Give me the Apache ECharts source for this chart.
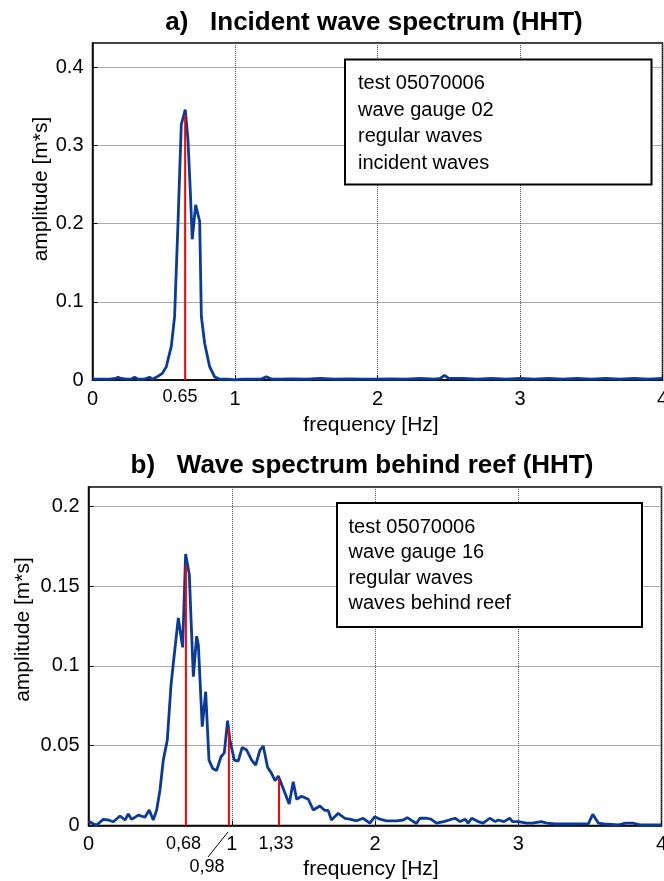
<!DOCTYPE html>
<html><head><meta charset="utf-8">
<script src="https://cdn.jsdelivr.net/npm/echarts@6/dist/echarts.min.js"></script>
<style>html,body{margin:0;padding:0;background:#fff;overflow:hidden}#c{width:664px;height:881px}</style>
</head><body><div id="c"></div>
<script>
// ---- data: panel a (incident wave spectrum) ----
const freqA = [0, 0.04, 0.08, 0.12, 0.16, 0.18, 0.2, 0.24, 0.27, 0.295, 0.32, 0.36, 0.4, 0.42, 0.447, 0.49, 0.518, 0.553, 0.576, 0.6, 0.623, 0.651, 0.67, 0.686, 0.7, 0.724, 0.752, 0.764, 0.787, 0.822, 0.857, 0.892, 0.95, 1.0, 1.05, 1.12, 1.18, 1.22, 1.26, 1.32, 1.4, 1.5, 1.6, 1.7, 1.8, 1.9, 2.0, 2.1, 2.2, 2.3, 2.4, 2.44, 2.47, 2.5, 2.6, 2.7, 2.8, 2.9, 3.0, 3.1, 3.2, 3.3, 3.4, 3.5, 3.6, 3.7, 3.8, 3.9, 4.0];
const ampA = [0.001, 0.001, 0.001, 0.001, 0.002, 0.0035, 0.002, 0.001, 0.001, 0.0035, 0.001, 0.001, 0.0035, 0.001, 0.0034, 0.0085, 0.017, 0.043, 0.081, 0.2006, 0.3265, 0.3457, 0.307, 0.243, 0.18, 0.224, 0.203, 0.081, 0.047, 0.017, 0.004, 0.001, 0.001, 0.0, 0.001, 0.001, 0.001, 0.004, 0.001, 0.001, 0.0015, 0.001, 0.002, 0.001, 0.0015, 0.001, 0.001, 0.0015, 0.001, 0.002, 0.001, 0.002, 0.006, 0.002, 0.002, 0.001, 0.002, 0.001, 0.002, 0.001, 0.002, 0.001, 0.002, 0.001, 0.002, 0.001, 0.002, 0.001, 0.002];
const peakFreqA = [0.65];
const peakAmpA = [0.339];

// ---- data: panel b (behind reef) ----
const freqB = [0, 0.034, 0.057, 0.103, 0.138, 0.173, 0.22, 0.255, 0.278, 0.301, 0.348, 0.394, 0.424, 0.452, 0.476, 0.499, 0.522, 0.55, 0.576, 0.592, 0.627, 0.657, 0.678, 0.704, 0.715, 0.732, 0.755, 0.767, 0.794, 0.818, 0.841, 0.867, 0.894, 0.925, 0.948, 0.971, 0.987, 1.018, 1.045, 1.073, 1.104, 1.139, 1.167, 1.197, 1.22, 1.25, 1.278, 1.302, 1.325, 1.359, 1.401, 1.429, 1.453, 1.487, 1.534, 1.569, 1.615, 1.65, 1.673, 1.696, 1.743, 1.789, 1.824, 1.871, 1.917, 1.964, 1.999, 2.034, 2.08, 2.15, 2.197, 2.225, 2.26, 2.289, 2.313, 2.359, 2.39, 2.429, 2.48, 2.559, 2.594, 2.629, 2.65, 2.675, 2.72, 2.755, 2.801, 2.84, 2.86, 2.9, 2.94, 2.96, 3.0, 3.06, 3.1, 3.16, 3.2, 3.26, 3.31, 3.38, 3.49, 3.52, 3.56, 3.6, 3.7, 3.75, 3.8, 3.85, 3.94, 4.0];
const ampB = [0.003, 0.001, 0.0004, 0.0039, 0.0035, 0.0024, 0.006, 0.0035, 0.0073, 0.0039, 0.0066, 0.0052, 0.0098, 0.0035, 0.0098, 0.0223, 0.041, 0.0536, 0.088, 0.1015, 0.130, 0.1116, 0.170, 0.157, 0.131, 0.0932, 0.1186, 0.113, 0.0619, 0.0838, 0.041, 0.0358, 0.0344, 0.0431, 0.0456, 0.0657, 0.0536, 0.041, 0.0404, 0.049, 0.0473, 0.041, 0.0379, 0.0473, 0.0498, 0.0365, 0.0327, 0.0281, 0.031, 0.0233, 0.0135, 0.0275, 0.0165, 0.0184, 0.0165, 0.0098, 0.0123, 0.0095, 0.0095, 0.0035, 0.0077, 0.0046, 0.004, 0.003, 0.0046, 0.0015, 0.0056, 0.004, 0.003, 0.003, 0.0035, 0.005, 0.003, 0.0013, 0.0046, 0.0046, 0.004, 0.0015, 0.0025, 0.0046, 0.0025, 0.004, 0.0015, 0.0046, 0.0025, 0.0015, 0.0046, 0.0025, 0.0035, 0.0025, 0.0046, 0.0025, 0.0025, 0.0015, 0.0015, 0.0025, 0.0015, 0.001, 0.001, 0.001, 0.0012, 0.0071, 0.0015, 0.001, 0.0005, 0.0015, 0.0015, 0.0005, 0.0005, 0.0005];
const peakFreqB = [0.68, 0.98, 1.33];
const peakAmpB = [0.163, 0.0609, 0.0296];

// ---- text ----
const titleA = 'a)   Incident wave spectrum (HHT)';
const titleB = 'b)   Wave spectrum behind reef (HHT)';
const legendA = ['test 05070006', 'wave gauge 02', 'regular waves', 'incident waves'];
const legendB = ['test 05070006', 'wave gauge 16', 'regular waves', 'waves behind reef'];
const xName = 'frequency [Hz]';
const yName = 'amplitude [m*s]';

const FONT = '"Liberation Sans", Arial, Helvetica, sans-serif';
const BLUE = '#0a3a9a';
const RED = '#ff0000';

const zip = (xs, ys) => xs.map((x, i) => [x, ys[i]]);
const stems = (xs, ys, idx) => xs.map((x, i) => ({
  type: 'line', xAxisIndex: idx, yAxisIndex: idx, data: [[x, 0], [x, ys[i]]],
  symbol: 'none', lineStyle: { color: RED, width: 2 }, z: 3, silent: true, animation: false
}));

function xAxisCfg(idx) {
  return {
    type: 'value', gridIndex: idx, min: 0, max: 4, interval: 1,
    axisLine: { show: true, onZero: false, lineStyle: { color: '#000', width: 1.5 } },
    axisTick: { show: true, inside: true, length: 5, lineStyle: { color: '#000' } },
    axisLabel: { color: '#000', fontSize: 20, fontFamily: FONT, margin: 9 },
    splitLine: { show: true, lineStyle: { type: 'dotted', color: '#555', width: 1 } }
  };
}
function yAxisCfg(idx, max, interval) {
  return {
    type: 'value', gridIndex: idx, min: 0, max: max, interval: interval,
    axisLine: { show: true, lineStyle: { color: '#000', width: 1.5 } },
    axisTick: { show: true, inside: true, length: 5, lineStyle: { color: '#000' } },
    axisLabel: { color: '#000', fontSize: 20, fontFamily: FONT, margin: 9, showMaxLabel: false },
    splitLine: { show: true, lineStyle: { type: 'dotted', color: '#555', width: 1 } }
  };
}

function legendBox(x, y, w, h, lines, tx, ty0, dy) {
  const els = [{ type: 'rect', shape: { x: x, y: y, width: w, height: h },
    style: { fill: '#fff', stroke: '#000', lineWidth: 2 }, z: 10 }];
  lines.forEach((t, i) => els.push({ type: 'text', x: tx, y: ty0 + i * dy, z: 11,
    style: { text: t, font: '20px ' + FONT, fill: '#000', textVerticalAlign: 'middle', verticalAlign: 'middle' } }));
  return els;
}
function txt(t, x, y, font, opts) {
  return Object.assign({ type: 'text', x: x, y: y, z: 11,
    style: { text: t, font: font, fill: '#000', align: 'center', verticalAlign: 'middle',
      textAlign: 'center', textVerticalAlign: 'middle' } }, opts || {});
}

const chart = echarts.init(document.getElementById('c'), null, { renderer: 'canvas' });
chart.setOption({
  backgroundColor: '#fff',
  animation: false,
  grid: [
    { left: 92.5, right: 1.5, top: 43, bottom: 881 - 380, show: true, borderColor: '#000', borderWidth: 1.5, backgroundColor: 'transparent', containLabel: false, outerBoundsMode: 'none' },
    { left: 88.5, right: 2.5, top: 487, bottom: 881 - 825.6, show: true, borderColor: '#000', borderWidth: 1.5, backgroundColor: 'transparent', containLabel: false, outerBoundsMode: 'none' }
  ],
  xAxis: [xAxisCfg(0), xAxisCfg(1)],
  yAxis: [yAxisCfg(0, 0.431, 0.1), yAxisCfg(1, 0.212, 0.05)],
  series: [
    { type: 'line', xAxisIndex: 0, yAxisIndex: 0, data: zip(freqA, ampA), symbol: 'none',
      lineStyle: { color: BLUE, width: 2.8 }, z: 2 },
    { type: 'line', xAxisIndex: 1, yAxisIndex: 1, data: zip(freqB, ampB), symbol: 'none',
      lineStyle: { color: BLUE, width: 2.8 }, z: 2 }
  ].concat(stems(peakFreqA, peakAmpA, 0), stems(peakFreqB, peakAmpB, 1)),
  graphic: [
    txt(titleA, 374, 23, 'bold 26px ' + FONT),
    txt(titleB, 362, 466, 'bold 26px ' + FONT),
    txt(xName, 371, 425, '21px ' + FONT),
    txt(xName, 371, 869, '21px ' + FONT),
    txt(yName, 41, 189, '21px ' + FONT, { rotation: Math.PI / 2 }),
    txt(yName, 23.5, 629.5, '21px ' + FONT, { rotation: Math.PI / 2 }),
    txt('0.65', 180, 397, '18px ' + FONT),
    txt('0,68', 183.5, 844, '18px ' + FONT),
    txt('1,33', 276, 844, '18px ' + FONT),
    txt('0,98', 207, 867, '18px ' + FONT),
    { type: 'line', shape: { x1: 208, y1: 857, x2: 228, y2: 832 }, style: { stroke: '#000', lineWidth: 1 }, z: 11 }
  ].concat(
    legendBox(345, 59.5, 306.5, 125, legendA, 358, 83.5, 26.6),
    legendBox(337, 503, 305, 124, legendB, 348.5, 527.5, 25.3)
  )
});
</script>
</body></html>
